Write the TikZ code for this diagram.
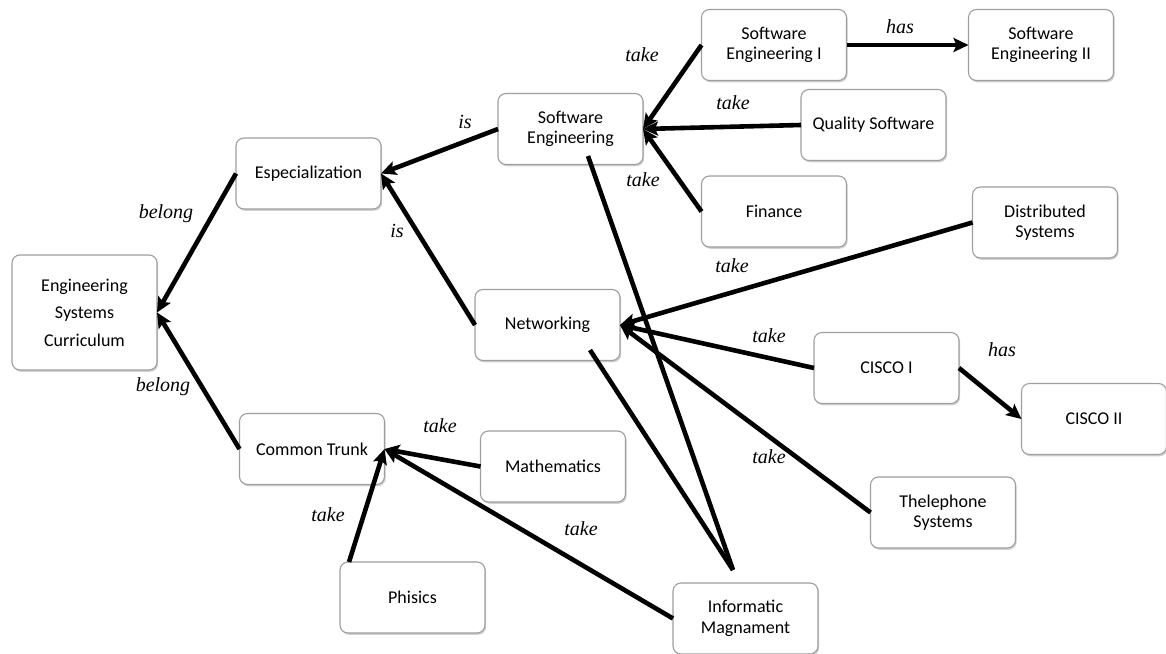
\documentclass[tikz,border=0pt]{standalone}
\usepackage{fontspec}
\setmainfont{Carlito}
\newfontfamily\lblfont{Liberation Serif}
\usetikzlibrary{arrows.meta,shadows}
\begin{document}
\begin{tikzpicture}[x=1pt,y=-1pt,
 box/.style={draw=black!38, line width=1.1pt, rounded corners=8pt, fill=white,
   minimum width=145pt, minimum height=71pt, align=center,
   font=\fontsize{18}{20.5}\selectfont, inner sep=0pt, outer sep=0pt,
   drop shadow={shadow xshift=1.2pt, shadow yshift=-1.8pt, fill=black!30, opacity=0.6}},
 conn/.style={line width=4.6pt, -{Stealth[length=15pt,width=14pt,inset=3pt]}},
 plainline/.style={line width=4.6pt},
 lbl/.style={font=\lblfont\itshape\fontsize{20}{22}\selectfont, inner sep=0pt}]
\useasboundingbox (0,0) rectangle (1166,653);

% nodes
\node[box, minimum height=115pt, font=\fontsize{18}{27.5}\selectfont] (esc) at (84.5,312.5) {Engineering\\Systems\\Curriculum};
\node[box] (esp) at (308.5,173.5) {Especialization};
\node[box] (ct) at (312,449) {Common Trunk};
\node[box] (math) at (553,466.5) {Mathematics};
\node[box] (phis) at (412.5,597.5) {Phisics};
\node[box] (im) at (745.5,618.5) {Informatic\\Magnament};
\node[box] (se) at (570.5,129) {Software\\Engineering};
\node[box] (sei) at (774,45) {Software\\Engineering I};
\node[box] (seii) at (1041,45) {Software\\Engineering II};
\node[box] (qs) at (873.5,125) {Quality Software};
\node[box] (fin) at (774,211.5) {Finance};
\node[box] (ds) at (1045,222.5) {Distributed\\Systems};
\node[box] (net) at (547.5,325) {Networking};
\node[box] (c1) at (886.5,368) {CISCO I};
\node[box] (c2) at (1094,419) {CISCO II};
\node[box] (tel) at (943,512.5) {Thelephone\\Systems};

% connectors
\draw[conn] (esp.west) -- (esc.east);
\draw[conn] (ct.west) -- (esc.east);
\draw[conn] (se.west) -- (esp.east);
\draw[conn] (net.west) -- (esp.east);
\draw[conn] (sei.west) -- (se.east);
\draw[conn] (qs.west) -- (se.east);
\draw[conn] (fin.west) -- (se.east);
\draw[conn] (sei.east) -- (seii.west);
\draw[conn] (ds.west) -- (net.east);
\draw[conn] (c1.west) -- (net.east);
\draw[conn] (tel.west) -- (net.east);
\draw[conn] (c1.east) -- (c2.west);
\draw[conn] (math.west) -- (ct.east);
\draw[conn] (im.west) -- (ct.east);
\draw[conn] ([xshift=9pt]phis.north west) -- (ct.east);

\coordinate (meet) at ([xshift=-12.5pt,yshift=13pt]im.north);
\draw[plainline] ([xshift=17.5pt,yshift=-27pt]se.center) -- (meet);
\draw[plainline] ([xshift=42.5pt,yshift=-25pt]net.center) -- (meet);

% labels
\node[lbl] (l1) at (166,214) {belong};
\node[lbl] (l2) at (163,387) {belong};
\node[lbl] (l3) at (465,122) {is};
\node[lbl] (l4) at (397,231) {is};
\node[lbl] (l5) at (642,55) {take};
\node[lbl] (l6) at (900,27) {has};
\node[lbl] (l7) at (733,103) {take};
\node[lbl] (l8) at (643,180) {take};
\node[lbl] (l9) at (732,266) {take};
\node[lbl] (l10) at (769,336) {take};
\node[lbl] (l11) at (1002,350) {has};
\node[lbl] (l12) at (769,457) {take};
\node[lbl] (l13) at (440,426) {take};
\node[lbl] (l14) at (328,515) {take};
\node[lbl] (l15) at (581,529) {take};
\end{tikzpicture}
\end{document}
